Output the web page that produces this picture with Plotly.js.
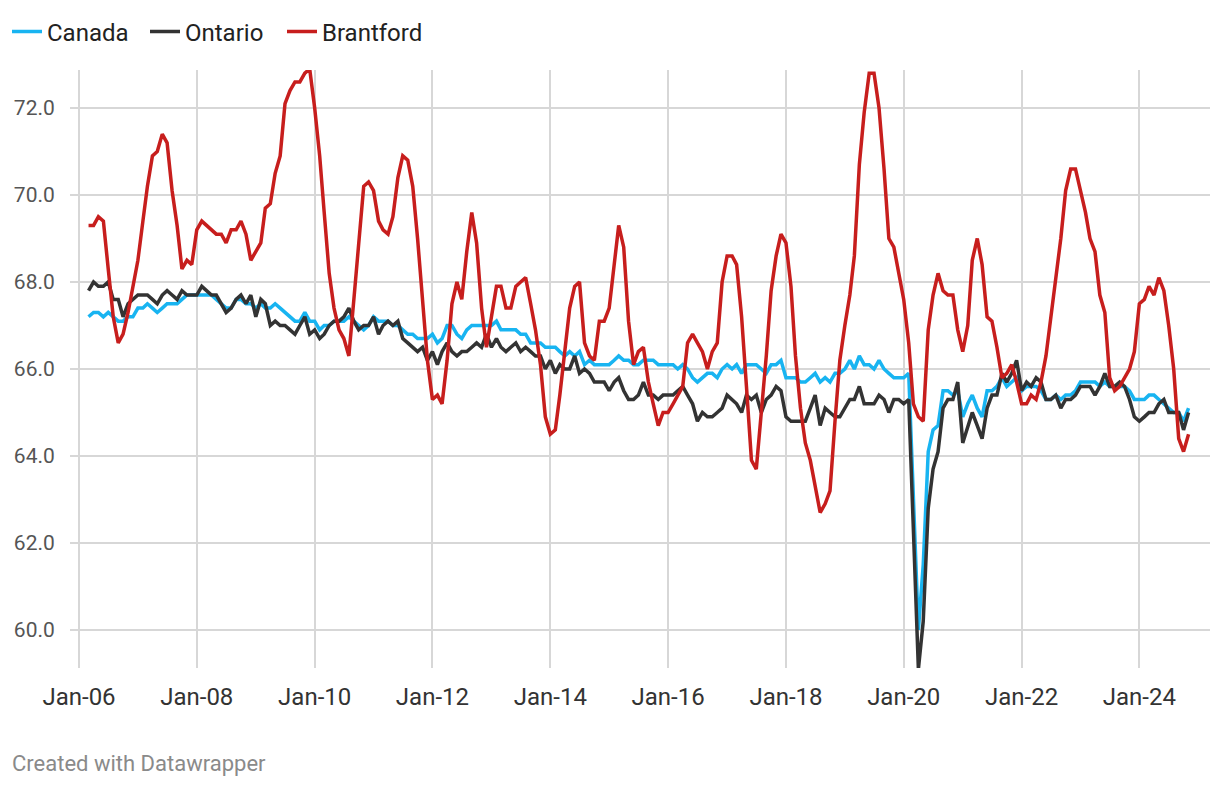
<!DOCTYPE html>
<html>
<head>
<meta charset="utf-8">
<script src="https://cdn.plot.ly/plotly-3.0.1.min.js"></script>
<style>
  html, body { margin: 0; padding: 0; background: #ffffff; }
  #chart { width: 1220px; height: 786px; }
</style>
</head>
<body>
<div id="chart"></div>
<script>
// Monthly series, March 2006 to November 2024
const firstMonth = [2006, 3];
const seriesNames = ["Canada", "Ontario", "Brantford"];

const canada = [
67.2,67.3,67.3,67.2,67.3,67.2,67.1,67.1,67.2,67.2,
67.4,67.4,67.5,67.4,67.3,67.4,67.5,67.5,67.5,67.6,
67.7,67.7,67.7,67.7,67.7,67.7,67.6,67.5,67.4,67.4,
67.6,67.6,67.5,67.5,67.4,67.5,67.4,67.4,67.5,67.4,
67.3,67.2,67.1,67.1,67.3,67.1,67.1,66.9,67.0,67.0,
67.1,67.1,67.1,67.2,67.1,67.0,66.9,67.0,67.2,67.1,
67.1,67.1,67.0,67.0,66.9,66.8,66.8,66.7,66.7,66.7,
66.8,66.6,66.7,67.0,67.0,66.8,66.7,66.9,67.0,67.0,
67.0,67.0,67.0,67.1,66.9,66.9,66.9,66.9,66.8,66.8,
66.6,66.6,66.6,66.5,66.5,66.5,66.4,66.3,66.4,66.3,
66.4,66.1,66.2,66.1,66.1,66.1,66.1,66.2,66.3,66.2,
66.2,66.1,66.1,66.2,66.2,66.2,66.1,66.1,66.1,66.1,
66.0,66.1,66.0,65.8,65.7,65.8,65.9,65.9,65.8,66.0,
66.1,66.0,66.1,65.9,66.1,66.1,66.1,66.0,65.9,66.1,
66.1,66.2,65.8,65.8,65.8,65.7,65.7,65.8,65.9,65.7,
65.8,65.7,65.9,65.9,66.0,66.2,66.0,66.3,66.1,66.1,
66.0,66.2,66.0,65.9,65.8,65.8,65.8,65.9,63.2,60.0,
61.5,64.1,64.6,64.7,65.5,65.5,65.4,65.5,64.9,65.2,
65.4,65.1,64.9,65.5,65.5,65.6,65.8,65.6,65.7,65.8,
65.5,65.6,65.6,65.6,65.5,65.3,65.3,65.4,65.3,65.4,
65.4,65.5,65.7,65.7,65.7,65.7,65.6,65.7,65.6,65.6,
65.6,65.6,65.5,65.3,65.3,65.3,65.4,65.4,65.3,65.2,
65.1,65.0,65.0,64.8,65.1
];

const ontario = [
67.8,68.0,67.9,67.9,68.0,67.6,67.6,67.2,67.5,67.6,
67.7,67.7,67.7,67.6,67.5,67.7,67.8,67.7,67.6,67.8,
67.7,67.7,67.7,67.9,67.8,67.7,67.7,67.5,67.3,67.4,
67.6,67.7,67.5,67.7,67.2,67.6,67.5,67.0,67.1,67.0,
67.0,66.9,66.8,67.0,67.2,66.8,66.9,66.7,66.8,67.0,
67.1,67.1,67.2,67.4,67.1,66.9,67.0,67.0,67.2,66.8,
67.0,67.1,67.0,67.1,66.7,66.6,66.5,66.4,66.5,66.2,
66.4,66.1,66.4,66.6,66.4,66.3,66.4,66.4,66.5,66.6,
66.5,66.8,66.5,66.7,66.5,66.4,66.5,66.6,66.4,66.5,
66.4,66.3,66.3,66.0,66.2,65.9,66.1,66.0,66.0,66.3,
65.9,66.0,65.9,65.7,65.7,65.7,65.5,65.7,65.8,65.5,
65.3,65.3,65.4,65.7,65.4,65.4,65.3,65.4,65.4,65.4,
65.5,65.6,65.4,65.2,64.8,65.0,64.9,64.9,65.0,65.1,
65.4,65.3,65.2,65.0,65.4,65.3,65.4,65.0,65.3,65.4,
65.6,65.5,64.9,64.8,64.8,64.8,64.8,65.1,65.4,64.7,
65.1,65.0,64.9,64.9,65.1,65.3,65.3,65.6,65.2,65.2,
65.2,65.4,65.3,65.0,65.3,65.3,65.2,65.3,62.4,59.1,
60.2,62.8,63.7,64.1,65.1,65.3,65.3,65.7,64.3,64.7,
65.0,64.7,64.4,65.1,65.4,65.4,65.9,65.7,65.9,66.2,
65.5,65.7,65.6,65.8,65.7,65.3,65.3,65.4,65.1,65.3,
65.3,65.4,65.6,65.6,65.6,65.4,65.6,65.9,65.6,65.6,
65.7,65.6,65.3,64.9,64.8,64.9,65.0,65.0,65.2,65.3,
65.0,65.0,65.0,64.6,65.0
];

const brantford = [
69.3,69.3,69.5,69.4,68.3,67.2,66.6,66.8,67.3,67.9,
68.5,69.4,70.2,70.9,71.0,71.4,71.2,70.1,69.3,68.3,
68.5,68.4,69.2,69.4,69.3,69.2,69.1,69.1,68.9,69.2,
69.2,69.4,69.1,68.5,68.7,68.9,69.7,69.8,70.5,70.9,
72.1,72.4,72.6,72.6,72.8,72.9,72.0,70.9,69.6,68.2,
67.4,66.9,66.7,66.3,67.6,69.0,70.2,70.3,70.1,69.4,
69.2,69.1,69.5,70.4,70.9,70.8,70.2,69.0,67.6,66.2,
65.3,65.4,65.2,66.2,67.5,68.0,67.6,68.7,69.6,68.9,
67.4,66.5,67.2,67.9,67.9,67.4,67.4,67.9,68.0,68.1,
67.5,66.9,66.1,64.9,64.5,64.6,65.4,66.4,67.4,67.9,
68.0,66.6,66.3,66.2,67.1,67.1,67.4,68.4,69.3,68.8,
67.1,66.1,66.4,66.5,65.7,65.2,64.7,65.0,65.0,65.2,
65.4,65.6,66.6,66.8,66.6,66.4,66.0,66.4,66.6,68.0,
68.6,68.6,68.4,67.2,65.6,63.9,63.7,64.9,66.3,67.8,
68.6,69.1,68.9,67.9,66.3,65.1,64.3,63.9,63.3,62.7,
62.9,63.2,64.8,66.2,67.0,67.7,68.6,70.7,71.9,72.8,
72.8,72.0,70.6,69.0,68.8,68.2,67.6,66.6,65.2,64.9,
64.8,66.9,67.7,68.2,67.8,67.7,67.7,66.9,66.4,67.0,
68.5,69.0,68.4,67.2,67.1,66.5,65.8,65.9,66.1,65.7,
65.2,65.2,65.4,65.3,65.7,66.3,67.2,68.1,69.0,70.1,
70.6,70.6,70.1,69.6,69.0,68.7,67.7,67.3,65.8,65.5,
65.6,65.8,66.0,66.4,67.5,67.6,67.9,67.7,68.1,67.8,
67.0,66.0,64.4,64.1,64.5
];

const yTicks = [60, 62, 64, 66, 68, 70, 72];
const xTickStart = "2006-01-01";
const footerText = "Created with Datawrapper";

function monthDates(n) {
  const out = [];
  let y = firstMonth[0], mo = firstMonth[1];
  for (let i = 0; i < n; i++) {
    out.push(y + "-" + String(mo).padStart(2, "0") + "-01");
    mo++; if (mo > 12) { mo = 1; y++; }
  }
  return out;
}
const dates = monthDates(canada.length);

const colors = ["#18b4f1", "#333333", "#c71e1d"];
const values = [canada, ontario, brantford];
const legendIds = ["legend", "legend2", "legend3"];

const traces = values.map((v, i) => ({
  type: "scatter",
  mode: "lines",
  name: seriesNames[i],
  x: dates,
  y: v,
  legend: legendIds[i],
  line: { color: colors[i], width: 3.5, shape: "linear" },
  hoverinfo: "x+y+name"
}));

const font = "Roboto, 'Noto Sans', sans-serif";

function legendAt(px) {
  return {
    orientation: "h",
    xref: "container",
    yref: "container",
    x: px / 1220,
    xanchor: "left",
    y: 0.988,
    yanchor: "top",
    font: { family: font, size: 24, color: "#222222" },
    itemwidth: 30,
    bgcolor: "rgba(0,0,0,0)"
  };
}

const layout = {
  width: 1220,
  height: 786,
  paper_bgcolor: "#ffffff",
  plot_bgcolor: "#ffffff",
  margin: { l: 70, r: 10, t: 70, b: 118, autoexpand: false },
  font: { family: font, color: "#333333" },
  showlegend: true,
  legend: legendAt(7),
  legend2: legendAt(145),
  legend3: legendAt(282),
  xaxis: {
    type: "date",
    range: ["2005-11-06", "2025-03-14"],
    tick0: xTickStart,
    dtick: "M24",
    tickformat: "%b-%y",
    showgrid: true,
    gridcolor: "#d7d7d7",
    gridwidth: 1.5,
    zeroline: false,
    showline: false,
    automargin: false,
    ticks: "outside",
    ticklen: 7,
    tickcolor: "rgba(0,0,0,0)",
    tickfont: { family: font, size: 24, color: "#333333" },
    fixedrange: true
  },
  yaxis: {
    range: [59.126, 72.874],
    tickvals: yTicks,
    tickformat: ".1f",
    showgrid: true,
    gridcolor: "#d7d7d7",
    gridwidth: 1.5,
    zeroline: false,
    showline: false,
    automargin: false,
    ticks: "outside",
    ticklen: 10,
    tickcolor: "rgba(0,0,0,0)",
    tickfont: { family: font, size: 21, color: "#555555" },
    fixedrange: true
  },
  annotations: [{
    text: footerText,
    xref: "paper", yref: "paper",
    x: -0.0525, y: -0.159,
    xanchor: "left", yanchor: "middle",
    showarrow: false,
    font: { family: font, size: 22, color: "#8a8a8a" }
  }]
};

Plotly.newPlot("chart", traces, layout, { displayModeBar: false, staticPlot: false });
</script>
</body>
</html>
